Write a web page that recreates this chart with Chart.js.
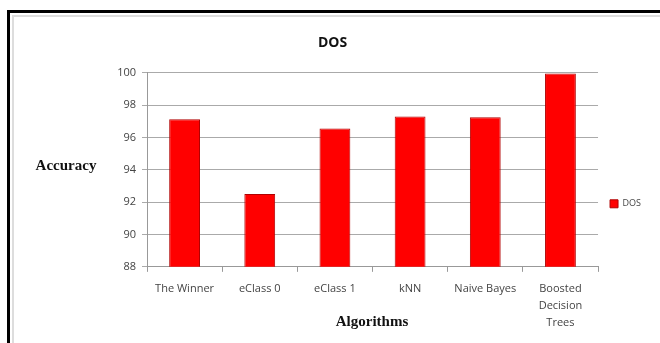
<!DOCTYPE html>
<html>
<head>
<meta charset="utf-8">
<script src="https://cdn.jsdelivr.net/npm/chart.js@4"></script>
<style>
  html, body { margin: 0; padding: 0; background: #fff; }
  body { width: 660px; height: 343px; position: relative; overflow: hidden; }
  #frame { position: absolute; left: 7px; top: 10px; width: 700px; height: 400px;
           border: 3px solid #000; box-sizing: border-box; }
  #inner { position: absolute; left: 2px; top: 2px; right: 0; bottom: 0;
           border-left: 2px solid #ddd; border-top: 2px solid #ddd; }
  #chart { position: absolute; left: 0; top: 0; }
</style>
</head>
<body>
<div id="frame"><div id="inner"></div></div>
<canvas id="chart" width="660" height="343"></canvas>
<script>
const algorithms = ["The Winner", "eClass 0", "eClass 1", "kNN", "Naive Bayes", ["Boosted", "Decision", "Trees"]];
const dosAccuracy = [97.13, 92.5, 96.55, 97.3, 97.25, 99.95];
const yTicks = [88, 90, 92, 94, 96, 98, 100];

// Excel-style axis titles: "Accuracy" is horizontal, "Algorithms" sits under the labels
const axisTitles = {
  id: 'axisTitles',
  afterDraw(chart) {
    const ctx = chart.ctx;
    ctx.save();
    ctx.fillStyle = '#111';
    ctx.font = 'bold 15px "Liberation Serif"';
    ctx.textAlign = 'center';
    ctx.textBaseline = 'middle';
    ctx.fillText('Accuracy', 66, 166);
    ctx.fillText('Algorithms', 372, 322);
    ctx.restore();
  }
};

new Chart(document.getElementById('chart'), {
  type: 'bar',
  data: {
    labels: algorithms,
    datasets: [{
      label: 'DOS',
      data: dosAccuracy,
      backgroundColor: '#ff0000',
      borderColor: '#b00000',
      borderWidth: 1,
      barPercentage: 0.5,
      categoryPercentage: 0.82
    }]
  },
  options: {
    responsive: false,
    animation: false,
    devicePixelRatio: 1,
    layout: { padding: { left: 14, right: 9, top: 35, bottom: 4 } },
    plugins: {
      title: {
        display: true,
        text: 'DOS',
        color: '#111',
        font: { family: 'Open Sans', size: 14, weight: 'bold' },
        padding: { top: 0, bottom: 21 }
      },
      legend: {
        position: 'right',
        title: { display: true, text: ' ', font: { size: 8 }, padding: { top: 0, bottom: 24 } },
        labels: {
          boxWidth: 8,
          boxHeight: 8,
          color: '#444',
          font: { family: 'Open Sans', size: 9 },
          padding: 12
        }
      },
      tooltip: { enabled: false }
    },
    scales: {
      x: {
        grid: { offset: true, drawOnChartArea: false, color: '#999', tickLength: 5 },
        border: { color: '#999' },
        ticks: { color: '#444', font: { family: 'Open Sans', size: 11, lineHeight: 1.55 }, maxRotation: 0, padding: 8 }
      },
      y: {
        min: 88,
        max: 100,
        afterBuildTicks(scale) { scale.ticks = yTicks.map(v => ({ value: v })); },
        afterFit(scale) { scale.width = 133; },
        grid: { color: '#aaa', tickLength: 5 },
        border: { color: '#999' },
        ticks: { color: '#444', font: { family: 'Open Sans', size: 11 }, padding: 6 }
      }
    }
  },
  plugins: [axisTitles]
});
</script>
</body>
</html>
